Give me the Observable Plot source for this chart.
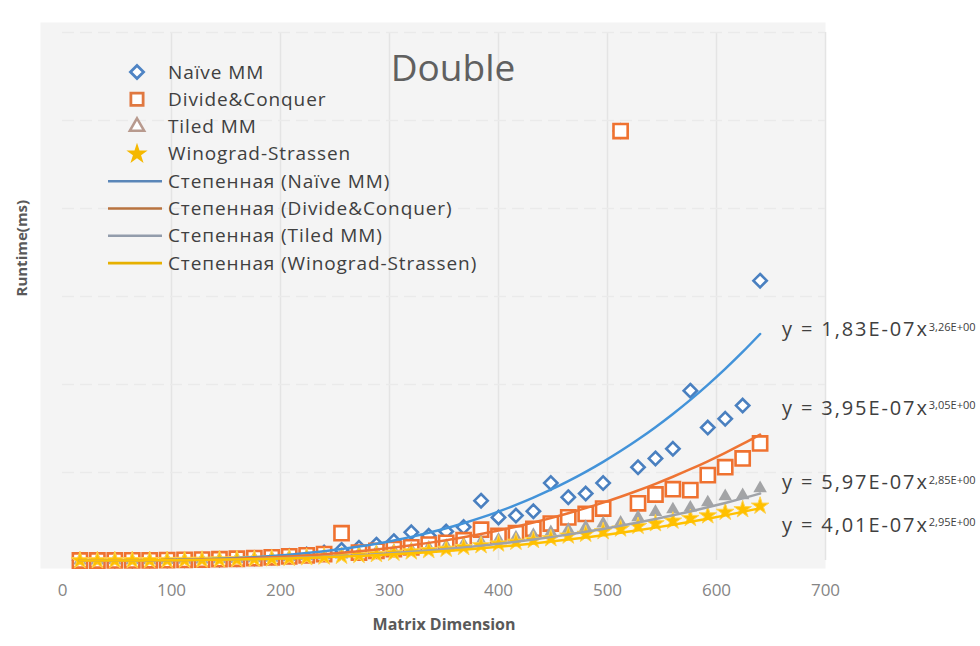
<!DOCTYPE html>
<html>
<head>
<meta charset="utf-8">
<script src="https://cdn.jsdelivr.net/npm/d3@7"></script>
<script src="https://cdn.jsdelivr.net/npm/@observablehq/plot@0.6"></script>
<style>
  body { margin: 0; background: #ffffff; }
  #wrap { position: relative; width: 980px; height: 646px; overflow: hidden; }
  #overlay { position: absolute; left: 0; top: 0; pointer-events: none; }
</style>
</head>
<body>
<div id="wrap"></div>
<script>
// ---- data ----
const sizes = [16,32,48,64,80,96,112,128,144,160,176,192,208,224,240,256,272,288,304,320,
               336,352,368,384,400,416,432,448,464,480,496,512,528,544,560,576,592,608,624,640];
const naive = [0,0.01,0.03,0.1,0.2,0.3,0.5,0.8,1.2,1.8,2.6,3.7,5.1,6.8,9,12,14.5,18,22,32,
               28,33,38,68,49,51,56,88,72,76,88,488,106,116,127,193,151,161,176,318];
const divConq = [0,0.01,0.05,0.1,0.2,0.4,0.7,1,1.5,2,2.7,3.6,4.7,5.8,7.2,31,9,11,13,15,
                 18,20,23,35,28,31,36,42,49,53,59,488,65,75,81,80,97,106,116,133];
const tiled = [0,0.01,0.05,0.1,0.2,0.4,0.6,0.9,1.2,1.7,2.3,2.9,3.7,4.6,5.6,6.8,8,9.5,11,12.5,
               14.5,16.5,18.5,21,23.5,26,29,32,35,38,42,43,49,55,58,60,66,73,74,82];
const wino = [0,0.01,0.03,0.08,0.15,0.3,0.4,0.6,0.9,1.2,1.6,2.1,2.7,3.4,4.2,5,6,7,8.5,10,
              11.5,13,15,17,19,21,23,25,28,30,33,36,39,42,45,48,51,55,58,62];

const seriesNames = ["Naïve MM", "Divide&Conquer", "Tiled MM", "Winograd-Strassen"];
const trendNames = ["Степенная (Naïve MM)", "Степенная (Divide&Conquer)", "Степенная (Tiled MM)", "Степенная (Winograd-Strassen)"];
// power trend coefficients y = a * x^b
const trendA = [1.83e-7, 3.95e-7, 4.01e-7, 5.97e-7];
const trendB = [3.26, 3.05, 2.95, 2.85];
const eqLabels = ["y = 1,83E-07x^3,26E+00", "y = 3,95E-07x^3,05E+00", "y = 5,97E-07x^2,85E+00", "y = 4,01E-07x^2,95E+00"];
const eqY = [262, 173, 88, 40];
const xTicks = [0,100,200,300,400,500,600,700];
const yGrid = [100,200,300,400,500,600];

const title = "Double";
const xTitle = "Matrix Dimension";
const yTitle = "Runtime(ms)";

// ---- styling ----
const markColor = ["#4a80c0", "#ef7230", "#a3a4a6", "#ffc000"];
const lineColor = ["#4393d9", "#ee7433", "#a0a3a8", "#ffc000"];
const legendMarkColor = ["#4f84c4", "#e07840", "#b89a8e", "#f5b800"];
const legendLineColor = ["#5a86b8", "#b8733f", "#929cab", "#e6b000"];

const allSeries = [naive, divConq, tiled, wino];
const points = allSeries.map((vals, s) => sizes.map((x, i) => ({x, y: vals[i], s})));
const trends = [];
trendA.forEach((a, s) => sizes.forEach(x => trends.push({x, y: a * Math.pow(x, trendB[s]), s})));
const eqData = eqLabels.map((t, i) => ({t, y: eqY[i]}));

const chart = Plot.plot({
  width: 980,
  height: 646,
  marginLeft: 62,
  marginRight: 155,
  marginTop: 32,
  marginBottom: 86,
  style: {fontFamily: "'Open Sans', sans-serif", fontSize: "17px", color: "#858585", background: "transparent", overflow: "visible"},
  x: {domain: [0, 700], ticks: xTicks, tickSize: 0, tickPadding: 23, label: null},
  y: {domain: [0, 600], axis: null},
  marks: [
    Plot.frame({fill: "#f4f4f4", stroke: null, insetLeft: -22, insetTop: -10, insetBottom: -8}),
    Plot.ruleX(xTicks.slice(1), {stroke: "#e4e4e4", strokeWidth: 1.5}),
    Plot.ruleY(yGrid, {stroke: "#eaeaea", strokeWidth: 1.5, strokeDasharray: "12,6"}),
    Plot.dot(points[0], {x: "x", y: "y", symbol: "diamond2", r: 6, stroke: markColor[0], strokeWidth: 2.6, fill: "white"}),
    Plot.dot(points[1], {x: "x", y: "y", symbol: "square", r: 8, stroke: markColor[1], strokeWidth: 2.6, fill: "white"}),
    Plot.dot(points[2], {x: "x", y: "y", symbol: "triangle", r: 5, fill: markColor[2], stroke: null}),
    Plot.dot(points[3], {x: "x", y: "y", symbol: "star", r: 5.5, fill: markColor[3], stroke: "#ffd24d", strokeWidth: 1}),
    Plot.line(trends, {x: "x", y: "y", z: "s", stroke: d => lineColor[d.s], strokeWidth: 2.5, curve: "monotone-x"}),
    Plot.text(eqData, {x: 660, y: "y", text: "t", textAnchor: "start", fill: "#404040", fontSize: 20, className: "eqlabel"}),
    Plot.text([yTitle], {frameAnchor: "left", dx: -40, rotate: -90, fontWeight: "bold", fontSize: 15, fill: "#595959"}),
    Plot.text([xTitle], {frameAnchor: "bottom", dy: 69, fontWeight: "bold", fontSize: 16, fill: "#595959"})
  ]
});

document.getElementById("wrap").appendChild(chart);

// superscripts for equation labels
d3.select(chart).selectAll(".eqlabel text").each(function() {
  const full = this.textContent;
  const parts = full.split("^");
  if (parts.length !== 2) return;
  const el = d3.select(this);
  el.text(null);
  el.append("tspan").style("letter-spacing", "1.9px").text(parts[0]);
  el.append("tspan").attr("dy", "-0.5em").attr("font-size", "11px").style("letter-spacing", "0px").text(parts[1]);
});

// ---- overlay: title and legend ----
const ov = d3.select("#wrap").append("svg")
  .attr("id", "overlay").attr("width", 980).attr("height", 646)
  .style("font-family", "'Open Sans', sans-serif");

ov.append("text").attr("x", 453).attr("y", 81).attr("text-anchor", "middle")
  .attr("font-size", 37).attr("fill", "#606060").text(title);

const legendItems = seriesNames.map((n, i) => ({kind: "marker", i, label: n}))
  .concat(trendNames.map((n, i) => ({kind: "line", i, label: n})));
const symbols = [d3.symbolDiamond2, d3.symbolSquare, d3.symbolTriangle, d3.symbolStar];
const g = ov.append("g");
legendItems.forEach((it, k) => {
  const cy = 72 + 27.3 * k;
  if (it.kind === "marker") {
    const sizes2 = [110, 150, 90, 140];
    const p = g.append("path")
      .attr("transform", `translate(137,${cy})`)
      .attr("d", d3.symbol(symbols[it.i], sizes2[it.i])());
    if (it.i < 3) p.attr("fill", "white").attr("stroke", legendMarkColor[it.i]).attr("stroke-width", it.i < 2 ? 2.8 : 2.5);
    else p.attr("fill", legendMarkColor[it.i]);
  } else {
    g.append("line").attr("x1", 108).attr("x2", 162).attr("y1", cy).attr("y2", cy)
      .attr("stroke", legendLineColor[it.i]).attr("stroke-width", 2.6);
  }
  g.append("text").attr("x", 168).attr("y", cy + 6.5).attr("font-size", 19)
    .style("letter-spacing", "0.9px")
    .attr("fill", "#404040").text(it.label);
});
</script>
</body>
</html>
